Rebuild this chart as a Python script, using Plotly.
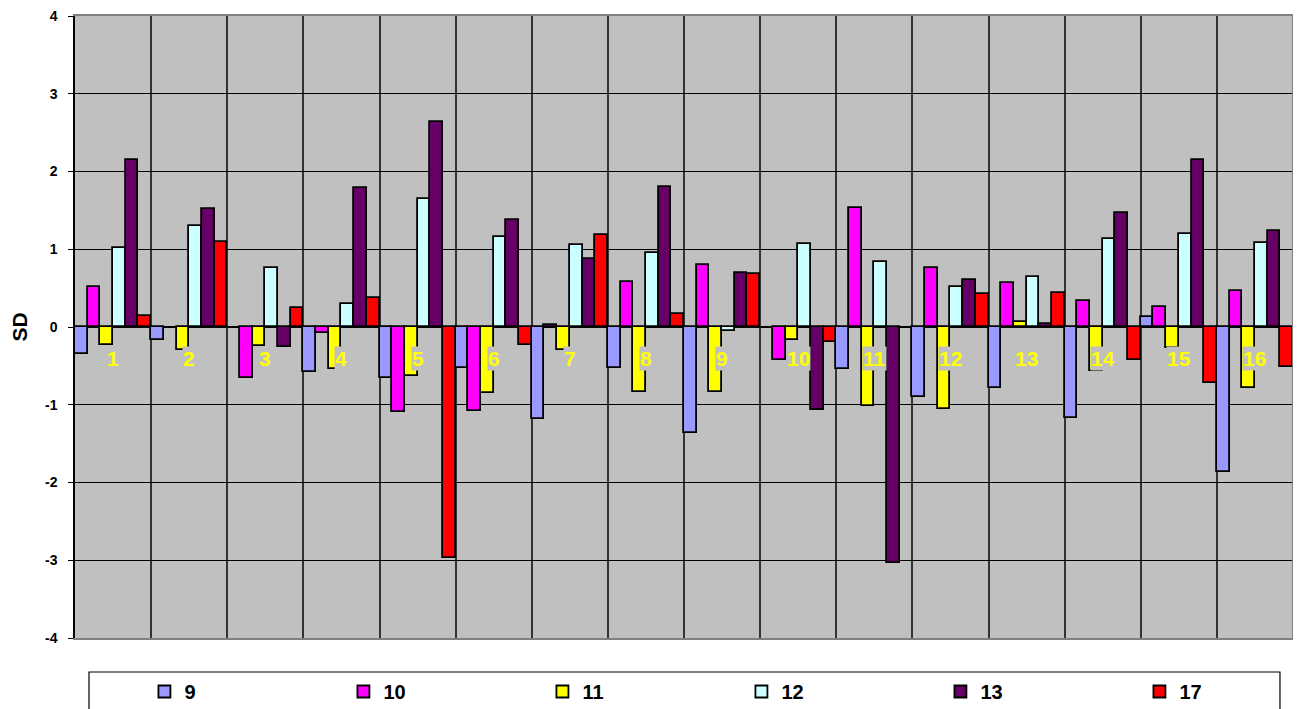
import plotly.graph_objects as go

categories = list(range(1, 17))
cat_labels = [str(c) for c in categories]

series_names = ["9", "10", "11", "12", "13", "17"]
s9 = [-0.35, -0.17, None, -0.575, -0.66, -0.53, -1.18, -0.53, -1.365, None, -0.545, -0.90, -0.79, -1.176, 0.133, -1.86]
s10 = [0.51, None, -0.66, -0.08, -1.09, -1.08, 0.026, 0.573, 0.80, -0.43, 1.53, 0.764, 0.57, 0.335, 0.258, 0.46]
s11 = [-0.23, -0.30, -0.245, -0.535, -0.63, -0.85, -0.29, -0.83, -0.83, -0.17, -1.02, -1.06, 0.06, -0.57, -0.267, -0.79]
s12 = [1.02, 1.30, 0.755, 0.30, 1.65, 1.16, 1.06, 0.953, -0.05, 1.07, 0.84, 0.515, 0.644, 1.137, 1.197, 1.08]
s13 = [2.15, 1.515, -0.26, 1.785, 2.64, 1.37, 0.875, 1.80, 0.70, -1.07, -3.03, 0.60, 0.043, 1.464, 2.15, 1.236]
s17 = [0.14, 1.094, 0.245, 0.373, -2.97, -0.23, 1.185, 0.164, 0.68, -0.19, None, 0.43, 0.438, -0.42, -0.72, -0.515]

all_series = [s9, s10, s11, s12, s13, s17]
colors = ["#9999FF", "#FF00FF", "#FFFF00", "#CCFFFF", "#660066", "#FF0000"]

y_ticks = [-4, -3, -2, -1, 0, 1, 2, 3, 4]

FONT = "Liberation Sans, Arial, sans-serif"

fig = go.Figure()
for name, vals, col in zip(series_names, all_series, colors):
    fig.add_trace(go.Bar(
        x=categories, y=vals, name=name,
        marker_color=col,
        marker_line_color="black",
        marker_line_width=1.8,
    ))

for c, lab in zip(categories, cat_labels):
    fig.add_annotation(
        x=c, y=-0.41, xref="x", yref="y", text="<b>" + lab + "</b>",
        showarrow=False, font=dict(family=FONT, size=21, color="#FFFF00"),
        bgcolor="#C0C0C0", borderpad=0,
    )

# legend frame
fig.add_shape(type="rect", xref="paper", yref="paper",
              x0=0.0115, x1=0.9893, y0=-0.125, y1=-0.0547,
              line=dict(color="black", width=1.2), fillcolor="white", layer="below")
# right border of plot area
fig.add_shape(type="line", xref="paper", yref="paper", x0=1, x1=1, y0=0, y1=1,
              line=dict(color="#808080", width=2))

# page body adds an 8px offset; size the figure to fill the remaining window
fig.update_layout(
    width=1293, height=701,
    margin=dict(l=67, r=8, t=8, b=71, autoexpand=False),
    paper_bgcolor="white", plot_bgcolor="#C0C0C0",
    barmode="group", bargap=0, bargroupgap=0,
    font=dict(family=FONT, color="black"),
    showlegend=True,
    legend=dict(
        orientation="h", x=0.057, xanchor="left", y=-0.0547, yanchor="top",
        font=dict(family=FONT, size=20, color="black", weight="bold"),
        bgcolor="rgba(0,0,0,0)", borderwidth=0,
        entrywidth=154, entrywidthmode="pixels",
        traceorder="normal",
    ),
    xaxis=dict(
        range=[0.5, 16.5], tickmode="linear", tick0=0.5, dtick=1,
        showticklabels=False, ticks="", showgrid=True,
        gridcolor="#333333", gridwidth=1.5, zeroline=False,
        showline=True, linecolor="#808080", linewidth=2, mirror=True,
        automargin=False,
    ),
    yaxis=dict(
        range=[-4, 4], tickmode="array", tickvals=y_ticks,
        ticktext=[str(v) for v in y_ticks],
        tickfont=dict(family=FONT, size=14, color="black", weight="bold"),
        ticks="outside", ticklen=5, tickcolor="black", ticklabelstandoff=8,
        ticklabeloverflow="allow",
        showgrid=True, gridcolor="black", gridwidth=1,
        zeroline=True, zerolinecolor="black", zerolinewidth=2,
        showline=True, linecolor="black", linewidth=1.5,
        automargin=False,
        title=dict(text="<b>SD</b>", font=dict(family=FONT, size=21, color="black"), standoff=14),
    ),
)

fig.write_html("out.html")
